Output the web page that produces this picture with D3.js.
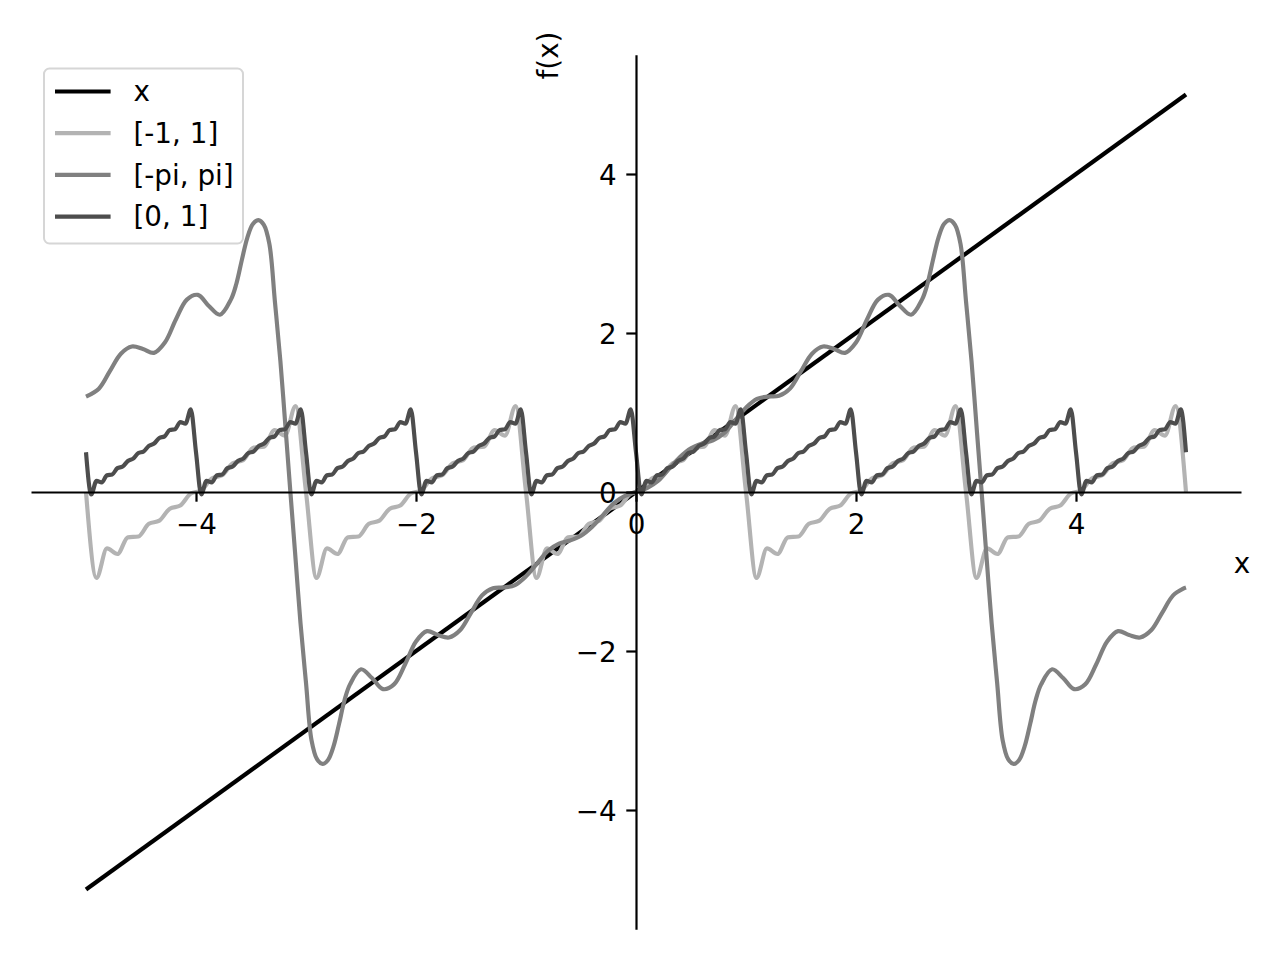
<!DOCTYPE html>
<html><head><meta charset="utf-8">
<script src="https://cdn.jsdelivr.net/npm/d3@7"></script>
<style>body{margin:0;background:#fff}svg{display:block}text{font-family:"DejaVu Sans",sans-serif;fill:#000}</style>
</head><body><svg id="chart" width="1280" height="960"></svg>
<script>
// ---------- data ----------
const seriesNames = ["x", "[-1, 1]", "[-pi, pi]", "[0, 1]"];
const seriesColors = ["#000000", "#b3b3b3", "#808080", "#4d4d4d"];
const xTicks = [-4, -2, 0, 2, 4];
const yTicks = [-4, -2, 0, 2, 4];
const xLabel = "x";
const yLabel = "f(x)";

// f(x) = x
const identX = [-5, 5];
const identY = [-5, 5];

// [0, 1] series, sampled from x = -5 every 1/21
const saw01Start = -5, saw01Step = 1 / 21;
const saw01Y = [
0.50,-0.03,0.14,0.12,0.21,0.22,0.30,0.32,0.39,0.42,0.49,0.51,0.58,0.61,0.68,0.70,0.78,0.79,0.88,0.86,1.04,
0.50,-0.03,0.14,0.12,0.21,0.22,0.30,0.32,0.39,0.42,0.49,0.51,0.58,0.61,0.68,0.70,0.78,0.79,0.88,0.86,1.04,
0.50,-0.03,0.14,0.12,0.21,0.22,0.30,0.32,0.39,0.42,0.49,0.51,0.58,0.61,0.68,0.70,0.78,0.79,0.88,0.86,1.04,
0.50,-0.03,0.14,0.12,0.21,0.22,0.30,0.32,0.39,0.42,0.49,0.51,0.58,0.61,0.68,0.70,0.78,0.79,0.88,0.86,1.04,
0.50,-0.03,0.14,0.12,0.21,0.22,0.30,0.32,0.39,0.42,0.49,0.51,0.58,0.61,0.68,0.70,0.78,0.79,0.88,0.86,1.04,
0.50,-0.03,0.14,0.12,0.21,0.22,0.30,0.32,0.39,0.42,0.49,0.51,0.58,0.61,0.68,0.70,0.78,0.79,0.88,0.86,1.04,
0.50,-0.03,0.14,0.12,0.21,0.22,0.30,0.32,0.39,0.42,0.49,0.51,0.58,0.61,0.68,0.70,0.78,0.79,0.88,0.86,1.04,
0.50,-0.03,0.14,0.12,0.21,0.22,0.30,0.32,0.39,0.42,0.49,0.51,0.58,0.61,0.68,0.70,0.78,0.79,0.88,0.86,1.04,
0.50,-0.03,0.14,0.12,0.21,0.22,0.30,0.32,0.39,0.42,0.49,0.51,0.58,0.61,0.68,0.70,0.78,0.79,0.88,0.86,1.04,
0.50,-0.03,0.14,0.12,0.21,0.22,0.30,0.32,0.39,0.42,0.49,0.51,0.58,0.61,0.68,0.70,0.78,0.79,0.88,0.86,1.04,
0.50];

// [-1, 1] series, sampled from x = -5 every 2/21
const saw11Start = -5, saw11Step = 2 / 21;
const saw11Y = [
0,-1.08,-0.71,-0.78,-0.57,-0.56,-0.40,-0.36,-0.21,-0.17,-0.02,0.02,0.17,0.21,0.36,0.40,0.56,0.57,0.78,0.71,1.08,
0,-1.08,-0.71,-0.78,-0.57,-0.56,-0.40,-0.36,-0.21,-0.17,-0.02,0.02,0.17,0.21,0.36,0.40,0.56,0.57,0.78,0.71,1.08,
0,-1.08,-0.71,-0.78,-0.57,-0.56,-0.40,-0.36,-0.21,-0.17,-0.02,0.02,0.17,0.21,0.36,0.40,0.56,0.57,0.78,0.71,1.08,
0,-1.08,-0.71,-0.78,-0.57,-0.56,-0.40,-0.36,-0.21,-0.17,-0.02,0.02,0.17,0.21,0.36,0.40,0.56,0.57,0.78,0.71,1.08,
0,-1.08,-0.71,-0.78,-0.57,-0.56,-0.40,-0.36,-0.21,-0.17,-0.02,0.02,0.17,0.21,0.36,0.40,0.56,0.57,0.78,0.71,1.08,
0];

// [-pi, pi] series
const piX = [-5,-4.883,-4.783,-4.683,-4.583,-4.483,-4.383,-4.283,-4.183,-4.083,-3.983,-3.883,-3.783,-3.683,-3.633,-3.583,-3.533,-3.483,-3.433,-3.383,-3.333,-3.283,-3.233,-3.183,-3.142,
-3.1,-3.05,-3.0,-2.95,-2.9,-2.85,-2.8,-2.75,-2.7,-2.65,-2.6,-2.5,-2.4,-2.3,-2.2,-2.1,-2.0,-1.9,-1.8,-1.7,-1.6,-1.5,-1.4,-1.3,-1.2,-1.1,-1.0,-0.9,-0.8,-0.7,-0.6,-0.5,-0.4,-0.3,-0.2,-0.1,
0,0.1,0.2,0.3,0.4,0.5,0.6,0.7,0.8,0.9,1.0,1.1,1.2,1.3,1.4,1.5,1.6,1.7,1.8,1.9,2.0,2.1,2.2,2.3,2.4,2.5,2.6,2.65,2.7,2.75,2.8,2.85,2.9,2.95,3.0,3.05,3.1,
3.142,3.183,3.233,3.283,3.333,3.383,3.433,3.483,3.533,3.583,3.633,3.683,3.783,3.883,3.983,4.083,4.183,4.283,4.383,4.483,4.583,4.683,4.783,4.883,4.983,5];
const piY = [1.20,1.30,1.52,1.74,1.83,1.80,1.75,1.88,2.17,2.42,2.48,2.34,2.23,2.42,2.62,2.92,3.20,3.37,3.42,3.36,3.12,2.40,1.65,0.75,0,
-0.75,-1.65,-2.40,-3.12,-3.36,-3.42,-3.37,-3.20,-2.92,-2.62,-2.42,-2.23,-2.34,-2.48,-2.42,-2.17,-1.88,-1.75,-1.80,-1.83,-1.74,-1.52,-1.30,-1.21,-1.20,-1.17,-1.06,-0.90,-0.74,-0.65,-0.61,-0.55,-0.44,-0.29,-0.14,-0.05,
0,0.05,0.14,0.29,0.44,0.55,0.61,0.65,0.74,0.90,1.06,1.17,1.20,1.21,1.30,1.52,1.74,1.83,1.80,1.75,1.88,2.17,2.42,2.48,2.34,2.23,2.42,2.62,2.92,3.20,3.37,3.42,3.36,3.12,2.40,1.65,0.75,
0,-0.75,-1.65,-2.40,-3.12,-3.36,-3.42,-3.37,-3.20,-2.92,-2.62,-2.42,-2.23,-2.34,-2.48,-2.42,-2.17,-1.88,-1.75,-1.80,-1.83,-1.74,-1.52,-1.30,-1.21,-1.20];

// ---------- build tables ----------
const series = [
  {pts: identX.map((x, i) => [x, identY[i]]), curve: d3.curveLinear},
  {pts: saw11Y.map((v, i) => [saw11Start + i * saw11Step, v]), curve: d3.curveMonotoneX},
  {pts: piX.map((x, i) => [x, piY[i]]), curve: d3.curveCatmullRom.alpha(0.5)},
  {pts: saw01Y.map((v, i) => [saw01Start + i * saw01Step, v]), curve: d3.curveMonotoneX}
];

// ---------- drawing ----------
const svg = d3.select("#chart");
const FS = 27.8;
const x = d3.scaleLinear([-5.5, 5.5], [31, 1241]);
const y = d3.scaleLinear([-5.5, 5.5], [929.25, 54.75]);
const minus = d => (d < 0 ? "\u2212" + Math.abs(d) : String(d));

const plot = svg.append("g");
series.forEach((s, i) => {
  plot.append("path")
    .attr("d", d3.line().x(d => x(d[0])).y(d => y(d[1])).curve(s.curve)(s.pts))
    .attr("fill", "none")
    .attr("stroke", seriesColors[i])
    .attr("stroke-width", 4.17)
    .attr("stroke-linejoin", "round")
    .attr("stroke-linecap", "butt");
});

// x axis through y=0
const gx = svg.append("g").attr("transform", `translate(0,${y(0)})`)
  .call(d3.axisBottom(x).tickValues(xTicks).tickSize(9.7).tickSizeOuter(0).tickFormat(minus));
// y axis through x=0
const gy = svg.append("g").attr("transform", `translate(${x(0)},0)`)
  .call(d3.axisLeft(y).tickValues(yTicks).tickSize(9.7).tickSizeOuter(0).tickFormat(minus));
[gx, gy].forEach(g => {
  g.select(".domain").attr("stroke", "#000").attr("stroke-width", 2.2);
  g.selectAll(".tick line").attr("stroke", "#000").attr("stroke-width", 2.2);
  g.selectAll(".tick text").attr("font-size", FS).attr("font-family", "DejaVu Sans").attr("fill", "#000");
});
gx.selectAll(".tick text").attr("y", 42).attr("dy", null);
gy.selectAll(".tick text").attr("x", -19.4).attr("dy", "0.36em");

svg.append("text").attr("x", 1242).attr("y", 573).attr("text-anchor", "middle")
  .attr("font-size", FS).text(xLabel);
svg.append("text").attr("transform", "translate(558,55.5) rotate(-90)").attr("text-anchor", "middle")
  .attr("font-size", FS).text(yLabel);

// legend
const lg = svg.append("g");
lg.append("rect").attr("x", 44).attr("y", 68.5).attr("width", 199).attr("height", 175)
  .attr("rx", 5.5).attr("fill", "#fff").attr("fill-opacity", 0.8)
  .attr("stroke", "#d6d6d6").attr("stroke-width", 2);
seriesNames.forEach((name, i) => {
  const cy = 91.5 + i * 41.7;
  lg.append("line").attr("x1", 55).attr("x2", 110.6).attr("y1", cy).attr("y2", cy)
    .attr("stroke", seriesColors[i]).attr("stroke-width", 4.17);
  lg.append("text").attr("x", 133.5).attr("y", cy + 9.8).attr("font-size", FS).text(name);
});
</script></body></html>
